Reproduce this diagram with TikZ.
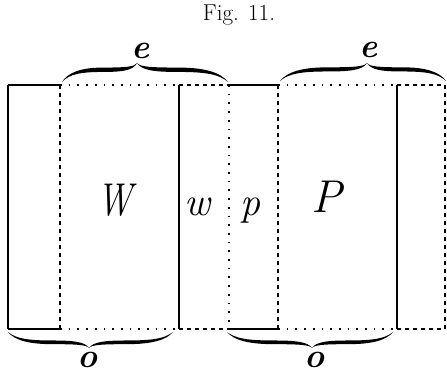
\documentclass[tikz,border=0pt]{standalone}
\usepackage{fontspec}
\newcommand\halfbrace[4]{%
\fill (#1,#3) .. controls ({#1+0.08*(#2)},{#3-0.5*(#4)}) and ({#1+0.25*(#2)},{#3-0.76*(#4)}) .. ({#1+0.55*(#2)},{#3-0.76*(#4)}) .. controls ({#1+0.85*(#2)},{#3-0.76*(#4)}) and ({#1+0.97*(#2)},{#3-0.8*(#4)}) .. ({#1+(#2)},{#3-(#4)}) .. controls ({#1+0.95*(#2)},{#3-0.6*(#4)}) and ({#1+0.8*(#2)},{#3-0.53*(#4)}) .. ({#1+0.55*(#2)},{#3-0.53*(#4)}) .. controls ({#1+0.25*(#2)},{#3-0.53*(#4)}) and ({#1+0.1*(#2)},{#3-0.42*(#4)}) .. cycle;}
\tikzset{
  solidline/.style={line width=1.1pt},
  dotline/.style={line width=1.7pt, dash pattern=on 1.7pt off 7pt},
  dashline/.style={line width=1.1pt, dash pattern=on 4pt off 4pt},
  lab/.style={inner sep=0pt, anchor=base},
  bflab/.style={lab, font=\fontsize{34}{34}\selectfont\bfseries\itshape},
}
\begin{document}
\begin{tikzpicture}[x=1pt,y=-1pt]
\useasboundingbox (0,0) rectangle (447,373);
% title
\node[lab, font=\fontsize{23}{23}\selectfont] (title) at (239,20) {Fig. 11.};
% vertical lines
\draw[solidline] (8,85) -- (8,329);
\draw[dashline] (60,85) -- (60,329);
\draw[solidline] (179,85) -- (179,329);
\draw[dotline] (229,85) -- (229,329);
\draw[dashline] (278,85) -- (278,329);
\draw[solidline] (397,85) -- (397,329);
\draw[dashline] (445,85) -- (445,329);
% top lines
\draw[solidline] (8,85) -- (60,85);
\draw[dotline] (60,85) -- (179,85);
\draw[dashline] (179,85) -- (229,85);
\draw[solidline] (229,85) -- (278,85);
\draw[dotline] (278,85) -- (397,85);
\draw[dashline] (397,85) -- (445,85);
% bottom lines
\draw[solidline] (8,329) -- (60,329);
\draw[dotline] (60,329) -- (179,329);
\draw[dashline] (179,329) -- (229,329);
\draw[solidline] (229,329) -- (278,329);
\draw[dotline] (278,329) -- (397,329);
\draw[dashline] (397,329) -- (445,329);
% braces
\halfbrace{62}{75}{82}{19}
\halfbrace{228}{-91}{82}{19}
\halfbrace{280}{87}{81}{18}
\halfbrace{446}{-79}{81}{18}
\halfbrace{8}{81}{332}{-16}
\halfbrace{173}{-84}{332}{-16}
\halfbrace{227}{85}{332}{-16}
\halfbrace{393}{-81}{332}{-16}
% labels
\node[bflab] (e1) at (141,58) {e};
\node[bflab] (e2) at (369,57) {e};
\node[bflab] (o1) at (88,367) {o};
\node[bflab] (o2) at (315,367) {o};
\node[lab, font=\fontsize{46}{46}\selectfont\itshape] (W) at (115,215) {\scalebox{0.78}[1]{W}};
\node[lab, font=\fontsize{40}{40}\selectfont\itshape] (w) at (197,215) {w};
\node[lab, font=\fontsize{40}{40}\selectfont\itshape] (p) at (250,215) {p};
\node[lab, font=\fontsize{46}{46}\selectfont\itshape] (P) at (327,212) {P};
\end{tikzpicture}
\end{document}
